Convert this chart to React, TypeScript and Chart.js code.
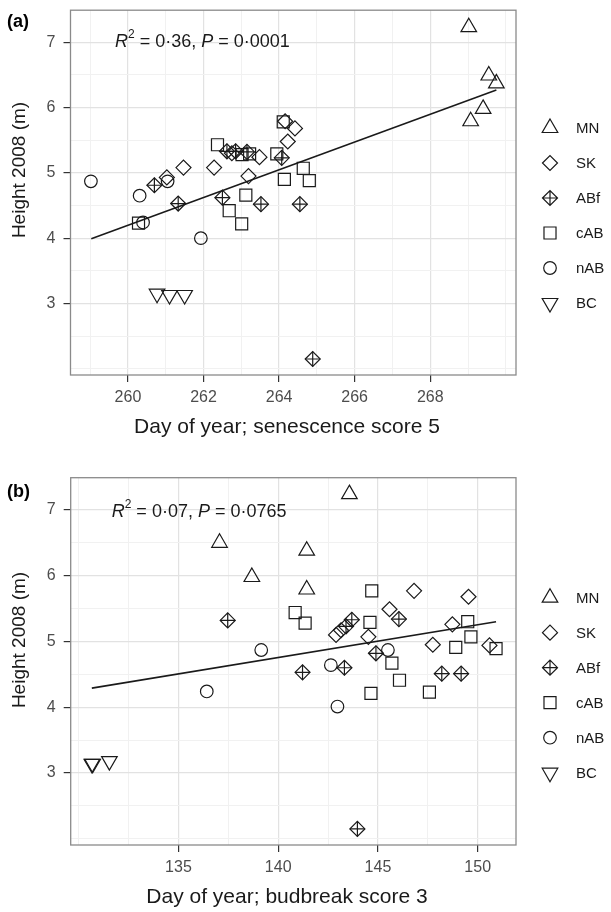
import React, { useEffect, useRef } from "react";
import { Chart, registerables } from "chart.js";
Chart.register(...registerables);

const FONT = "'Liberation Sans', Arial, Helvetica, sans-serif";
const INK = "#1a1a1a";

const groupNames = ["MN", "SK", "ABf", "cAB", "nAB", "BC"];

// ---------- Panel (a): senescence score 5 ----------
const senMN_x = [269.02, 269.55, 269.75, 269.4, 269.07];
const senMN_y = [7.23, 6.49, 6.37, 5.98, 5.79];
const senSK_x = [261.03, 261.47, 262.28, 262.75, 263.19, 263.48, 264.16, 264.23, 264.42];
const senSK_y = [4.93, 5.08, 5.08, 5.3, 4.95, 5.24, 5.79, 5.48, 5.68];
const senABf_x = [260.7, 261.33, 262.5, 262.62, 262.85, 263.15, 263.52, 264.07, 264.55, 264.89];
const senABf_y = [4.81, 4.53, 4.62, 5.33, 5.33, 5.32, 4.52, 5.23, 4.52, 2.15];
const sencAB_x = [260.28, 262.37, 262.68, 263.01, 263.02, 263.12, 263.22, 263.94, 264.11, 264.14, 264.64, 264.8];
const sencAB_y = [4.23, 5.43, 4.42, 4.22, 5.28, 4.66, 5.29, 5.29, 5.78, 4.9, 5.07, 4.88];
const sennAB_x = [259.02, 260.31, 260.4, 261.05, 261.93];
const sennAB_y = [4.87, 4.65, 4.24, 4.87, 4.0];
const senBC_x = [260.77, 261.1, 261.5];
const senBC_y = [3.15, 3.13, 3.13];
const senFit_x = [259.03, 269.75];
const senFit_y = [3.99, 6.27];
const senStats = ["0·36", "0·0001"];
const senXTicks = [260, 262, 264, 266, 268];
const senXGrid = [259, 260, 261, 262, 263, 264, 265, 266, 267, 268, 269, 270];

// ---------- Panel (b): budbreak score 3 ----------
const budMN_x = [137.06, 138.68, 141.43, 141.43, 143.57];
const budMN_y = [6.5, 5.98, 6.38, 5.79, 7.24];
const budSK_x = [142.9, 143.15, 144.52, 145.58, 146.81, 147.75, 148.73, 149.54, 150.59];
const budSK_y = [5.1, 5.17, 5.07, 5.49, 5.77, 4.95, 5.26, 5.68, 4.94];
const budABf_x = [137.47, 141.22, 143.32, 143.4, 143.69, 143.97, 144.9, 146.05, 148.2, 149.17];
const budABf_y = [5.32, 4.53, 4.6, 5.23, 5.33, 2.15, 4.82, 5.34, 4.51, 4.51];
const budcAB_x = [140.85, 141.35, 144.6, 144.65, 144.69, 145.7, 146.08, 147.58, 148.9, 149.5, 149.66, 150.92];
const budcAB_y = [5.44, 5.28, 5.29, 4.21, 5.77, 4.67, 4.41, 4.23, 4.91, 5.3, 5.07, 4.89];
const budnAB_x = [136.42, 139.15, 142.64, 142.97, 145.5];
const budnAB_y = [4.24, 4.87, 4.64, 4.01, 4.87];
const budBC_x = [130.66, 130.7, 131.54];
const budBC_y = [3.14, 3.14, 3.18];
const budFit_x = [130.66, 150.92];
const budFit_y = [4.29, 5.3];
const budStats = ["0·07", "0·0765"];
const budXTicks = [135, 140, 145, 150];
const budXGrid = [130, 132.5, 135, 137.5, 140, 142.5, 145, 147.5, 150];

// shared y axis
const yTicks = [3, 4, 5, 6, 7];
const yGrid = [2, 2.5, 3, 3.5, 4, 4.5, 5, 5.5, 6, 6.5, 7];

const zip = (xs: number[], ys: number[]) => xs.map((x, i) => ({ x, y: ys[i] }));

type Shape = { style: string; r: number; rot?: number; cross?: boolean };
const shapes: Shape[] = [
  { style: "triangle", r: 9 },
  { style: "rectRot", r: 7.5 },
  { style: "rectRot", r: 7.5, cross: true },
  { style: "rect", r: 8.5 },
  { style: "circle", r: 6.3 },
  { style: "triangle", r: 9, rot: 180 },
];

function drawShape(ctx: CanvasRenderingContext2D, s: Shape, x: number, y: number) {
  ctx.save();
  ctx.strokeStyle = INK;
  ctx.lineWidth = 1.2;
  ctx.beginPath();
  const r = s.r;
  if (s.style === "triangle") {
    const dir = s.rot ? -1 : 1;
    ctx.moveTo(x, y - dir * r);
    ctx.lineTo(x + r * Math.sin((2 * Math.PI) / 3), y + (dir * r) / 2);
    ctx.lineTo(x - r * Math.sin((2 * Math.PI) / 3), y + (dir * r) / 2);
    ctx.closePath();
  } else if (s.style === "rectRot") {
    ctx.moveTo(x - r, y);
    ctx.lineTo(x, y - r);
    ctx.lineTo(x + r, y);
    ctx.lineTo(x, y + r);
    ctx.closePath();
    if (s.cross) {
      ctx.moveTo(x - r, y);
      ctx.lineTo(x + r, y);
      ctx.moveTo(x, y - r);
      ctx.lineTo(x, y + r);
    }
  } else if (s.style === "rect") {
    const h = r * Math.SQRT1_2;
    ctx.rect(x - h, y - h, 2 * h, 2 * h);
  } else {
    ctx.arc(x, y, r, 0, Math.PI * 2);
  }
  ctx.stroke();
  ctx.restore();
}

type PanelCfg = {
  xMin: number;
  xMax: number;
  xGrid: number[];
  xTicks: number[];
  top: number;
  bottom: number;
  left: number;
  right: number;
  height: number;
  series: { x: number[]; y: number[] }[];
  fitX: number[];
  fitY: number[];
  stats: string[];
  annX: number;
  annY: number;
  label: string;
  labelY: number;
  xTitle: string;
  xTitleY: number;
  yTitleY: number;
  legendY0: number;
};

const W = 611;
const LEG_SYM_X = 550;
const LEG_TXT_X = 576;
const LEG_STEP = 35;
const X_TITLE_CX = 287;

const panelA: PanelCfg = {
  xMin: 258.48,
  xMax: 270.27,
  xGrid: senXGrid,
  xTicks: senXTicks,
  top: 8,
  bottom: 375,
  left: 70.5,
  right: 516,
  height: 456,
  series: [
    { x: senMN_x, y: senMN_y },
    { x: senSK_x, y: senSK_y },
    { x: senABf_x, y: senABf_y },
    { x: sencAB_x, y: sencAB_y },
    { x: sennAB_x, y: sennAB_y },
    { x: senBC_x, y: senBC_y },
  ],
  fitX: senFit_x,
  fitY: senFit_y,
  stats: senStats,
  annX: 115,
  annY: 42,
  label: "(a)",
  labelY: 22,
  xTitle: "Day of year; senescence score 5",
  xTitleY: 427,
  yTitleY: 170,
  legendY0: 128,
};

const panelB: PanelCfg = {
  xMin: 129.6,
  xMax: 151.92,
  xGrid: budXGrid,
  xTicks: budXTicks,
  top: 21.7,
  bottom: 389,
  left: 70.7,
  right: 516,
  height: 456,
  series: [
    { x: budMN_x, y: budMN_y },
    { x: budSK_x, y: budSK_y },
    { x: budABf_x, y: budABf_y },
    { x: budcAB_x, y: budcAB_y },
    { x: budnAB_x, y: budnAB_y },
    { x: budBC_x, y: budBC_y },
  ],
  fitX: budFit_x,
  fitY: budFit_y,
  stats: budStats,
  annX: 111.7,
  annY: 55.7,
  label: "(b)",
  labelY: 36,
  xTitle: "Day of year; budbreak score 3",
  xTitleY: 441,
  yTitleY: 184,
  legendY0: 141.7,
};

const near = (v: number, list: number[]) => list.some((t) => Math.abs(t - v) < 1e-6);

function buildChart(canvas: HTMLCanvasElement, cfg: PanelCfg) {
  const datasets: any[] = [];
  cfg.series.forEach((s, i) => {
    const sh = shapes[i];
    const base = {
      type: "scatter",
      label: groupNames[i],
      data: zip(s.x, s.y),
      showLine: false,
      pointRadius: sh.r,
      pointHoverRadius: sh.r,
      pointBorderColor: INK,
      pointBackgroundColor: "rgba(0,0,0,0)",
      pointBorderWidth: 1.2,
      pointRotation: sh.rot || 0,
    };
    datasets.push({ ...base, pointStyle: sh.style });
    if (sh.cross) {
      datasets.push({ ...base, label: groupNames[i] + "+", pointStyle: "cross" });
    }
  });
  datasets.push({
    type: "scatter",
    label: "fit",
    data: zip(cfg.fitX, cfg.fitY),
    showLine: true,
    borderColor: INK,
    borderWidth: 1.6,
    pointRadius: 0,
    fill: false,
  });

  const decor = {
    id: "decor",
    afterDatasetsDraw(chart: any) {
      const ctx: CanvasRenderingContext2D = chart.ctx;
      const a = chart.chartArea;
      ctx.save();
      // panel border
      ctx.strokeStyle = "#8a8a8a";
      ctx.lineWidth = 1.3;
      ctx.strokeRect(a.left, a.top, a.right - a.left, a.bottom - a.top);

      // annotation R^2, P
      ctx.fillStyle = INK;
      ctx.textBaseline = "middle";
      ctx.textAlign = "left";
      let cx = cfg.annX;
      const seg = (t: string, font: string, dy = 0) => {
        ctx.font = font;
        ctx.fillText(t, cx, cfg.annY + dy);
        cx += ctx.measureText(t).width;
      };
      seg("R", `italic 18px ${FONT}`);
      seg("2", `12px ${FONT}`, -7);
      seg(" = " + cfg.stats[0] + ", ", `18px ${FONT}`);
      seg("P", `italic 18px ${FONT}`);
      seg(" = " + cfg.stats[1], `18px ${FONT}`);

      // panel label
      ctx.font = `bold 18px ${FONT}`;
      ctx.fillStyle = "#000";
      ctx.fillText(cfg.label, 7, cfg.labelY);

      // axis titles
      ctx.fillStyle = INK;
      ctx.textAlign = "center";
      ctx.font = `21px ${FONT}`;
      ctx.fillText(cfg.xTitle, X_TITLE_CX, cfg.xTitleY);
      ctx.font = `19px ${FONT}`;
      ctx.save();
      ctx.translate(20, cfg.yTitleY);
      ctx.rotate(-Math.PI / 2);
      ctx.fillText("Height 2008 (m)", 0, 0);
      ctx.restore();

      // legend
      ctx.textAlign = "left";
      ctx.font = `15px ${FONT}`;
      groupNames.forEach((g, i) => {
        const ly = cfg.legendY0 + i * LEG_STEP;
        drawShape(ctx, shapes[i], LEG_SYM_X, ly);
        ctx.fillStyle = INK;
        ctx.fillText(g, LEG_TXT_X, ly + 1);
      });
      ctx.restore();
    },
  };

  const gridColor = (list: number[]) => (c: any) =>
    c.tick && near(c.tick.value, list) ? "#e2e2e2" : "#f1f1f1";
  const gridWidth = (list: number[]) => (c: any) => (c.tick && near(c.tick.value, list) ? 1.2 : 1);
  const tickColor = (list: number[]) => (c: any) =>
    c.tick && near(c.tick.value, list) ? "#333333" : "rgba(0,0,0,0)";

  return new Chart(canvas, {
    type: "scatter",
    data: { datasets },
    plugins: [decor],
    options: {
      animation: false,
      responsive: false,
      maintainAspectRatio: false,
      events: [],
      layout: { padding: { top: cfg.top, right: W - cfg.right, left: 0, bottom: 0 } },
      plugins: { legend: { display: false }, tooltip: { enabled: false } },
      scales: {
        x: {
          type: "linear",
          min: cfg.xMin,
          max: cfg.xMax,
          afterBuildTicks: (ax: any) => {
            ax.ticks = cfg.xGrid.map((v) => ({ value: v }));
          },
          afterFit: (ax: any) => {
            ax.height = cfg.height - cfg.bottom;
            ax.paddingLeft = 0;
            ax.paddingRight = 0;
          },
          border: { display: false },
          grid: {
            color: gridColor(cfg.xTicks),
            lineWidth: gridWidth(cfg.xTicks),
            drawTicks: true,
            tickLength: 7,
            tickWidth: 1.2,
            tickColor: tickColor(cfg.xTicks),
          },
          ticks: {
            autoSkip: false,
            maxRotation: 0,
            padding: 6,
            color: "#4d4d4d",
            font: { family: FONT, size: 16 },
            callback: (v: any) => (near(Number(v), cfg.xTicks) ? String(v) : ""),
          },
        },
        y: {
          type: "linear",
          min: 1.905,
          max: 7.49,
          afterBuildTicks: (ax: any) => {
            ax.ticks = yGrid.map((v) => ({ value: v }));
          },
          afterFit: (ax: any) => {
            ax.width = cfg.left;
            ax.paddingTop = 0;
            ax.paddingBottom = 0;
          },
          border: { display: false },
          grid: {
            color: gridColor(yTicks),
            lineWidth: gridWidth(yTicks),
            drawTicks: true,
            tickLength: 7,
            tickWidth: 1.2,
            tickColor: tickColor(yTicks),
          },
          ticks: {
            autoSkip: false,
            padding: 8,
            color: "#4d4d4d",
            font: { family: FONT, size: 16 },
            callback: (v: any) => (near(Number(v), yTicks) ? String(v) : ""),
          },
        },
      },
    } as any,
  } as any);
}

function Panel({ cfg, top }: { cfg: PanelCfg; top: number }) {
  const ref = useRef<HTMLCanvasElement | null>(null);
  useEffect(() => {
    if (!ref.current) return;
    const chart = buildChart(ref.current, cfg);
    return () => chart.destroy();
  }, [cfg]);
  return (
    <div style={{ position: "absolute", left: 0, top, width: W, height: cfg.height }}>
      <canvas ref={ref} width={W} height={cfg.height} style={{ width: W, height: cfg.height }} />
    </div>
  );
}

export default function App() {
  return (
    <div style={{ position: "absolute", left: 0, top: 0, width: W, height: 912, background: "#fff" }}>
      <Panel cfg={panelA} top={0} />
      <Panel cfg={panelB} top={456} />
    </div>
  );
}
